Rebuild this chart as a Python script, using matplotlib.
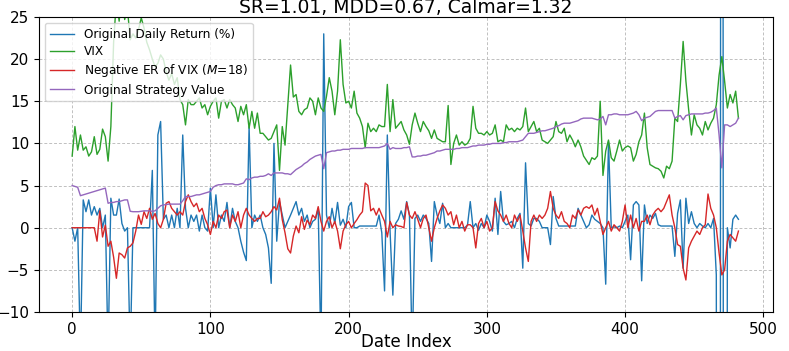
import numpy as np
import matplotlib
matplotlib.use("Agg")
import matplotlib.pyplot as plt

# values read every 2nd date index (0, 2, 4, ... 482)
STEP = 2

daily_ret = [
    0.0, -1.6, 0.0, -15, 3.3, 1.9, 3.3, 1.5, 2.5, 1.5,
    2.3, 0.0, 1.5, -15, 3.5, 1.5, 1.5, 3.4, 0.5, -0.4,
    0.0, -15, 0.0, 0.0, 0.0, 0.0, 0.0, 0.0, 0.0, 6.8,
    -15, 11.0, 12.6, 1.0, 1.5, 0.0, 1.5, 0.0, 2.3, 0.0,
    11.0, 2.3, 0.0, 1.5, 0.75, 1.5, -0.4, 1.5, 0.0, -0.4,
    4.7, 0.0, 3.9, 0.0, 1.5, 0.75, 3.0, 0.0, 2.3, 0.75,
    0.0, -1.6, -2.9, -3.9, 12.0, 0.0, 1.5, 0.75, 1.5, 0.0,
    -0.8, -2.4, -6.6, 10.0, -1.6, 3.1, 1.5, 0.0, 0.75, 1.5,
    2.3, 3.1, 1.5, 2.3, 0.75, 1.5, 0.0, 0.75, 1.0, 2.3,
    -15, 23.0, 1.5, 0.0, 2.3, 0.5, 3.0, 0.3, 1.0, 0.0,
    2.5, 3.0, 0.0, 0.0, 0.2, 0.2, 0.2, 0.2, 0.2, 0.2,
    0.2, 1.5, -0.6, -7.5, 11.0, -0.5, -8.0, 0.5, 1.0, 2.0,
    1.0, 3.1, 1.5, -15, 1.1, 1.5, 0.75, 1.5, 1.1, 0.5,
    -4.0, 3.1, 1.5, 0.5, 2.9, 0.0, 0.5, 0.0, 0.0, 0.0,
    0.0, 0.0, 0.0, 0.3, 3.1, 0.0, 0.5, -0.3, 0.5, 0.0,
    1.5, 0.75, -0.4, 3.5, -0.8, 4.3, 0.75, 0.35, 0.5, 0.75,
    0.0, 1.1, 1.7, -4.8, 7.7, 0.5, 0.2, 1.1, 1.1, 0.75,
    0.0, 0.0, 0.0, -2.0, 3.7, 1.1, 0.2, 0.2, 0.2, 0.2,
    0.2, 0.2, 0.2, 2.3, 1.5, 0.75, 0.0, 0.35, 1.5, 1.0,
    0.75, 0.5, 0.0, -6.7, 10.2, 0.0, 0.1, 0.0, 0.2, 0.0,
    0.75, 1.5, -3.8, 2.7, 3.1, 2.7, -6.3, 2.7, 0.5, 1.5,
    1.1, 1.7, 0.35, 0.2, 0.2, 0.2, 0.2, 0.2, -3.4, 1.7,
    3.3, -4.8, 3.5, 0.5, 1.9, 0.5, 0.0, 0.5, 0.2, 0.0,
    0.5, 0.0, 1.1, -5.6, -300, 300, -300, 0.0, -2.4, 1.0,
    1.5, 1.0,
]

vix = [
    8.5, 12.0, 9.2, 11.0, 9.2, 9.6, 8.5, 9.0, 10.8, 8.7,
    9.3, 11.7, 10.8, 7.9, 12.0, 22.0, 27.0, 24.5, 28.0, 24.7,
    26.0, 22.3, 23.0, 22.5, 23.5, 24.9, 23.7, 22.0, 21.1, 20.0,
    19.1, 19.5, 20.5, 20.0, 18.5, 17.5, 18.3, 17.0, 17.8, 15.2,
    14.6, 12.2, 15.2, 14.6, 14.6, 15.0, 15.4, 14.2, 14.6, 13.4,
    14.4, 15.0, 15.4, 13.0, 15.0, 15.2, 14.2, 15.2, 14.6, 14.2,
    12.6, 14.4, 13.4, 14.6, 11.8, 13.8, 11.8, 13.6, 11.2, 11.2,
    10.8, 10.4, 10.6, 11.4, 12.2, 6.8, 12.0, 9.8, 14.6, 19.3,
    15.5, 15.8, 13.8, 13.4, 14.0, 14.2, 15.4, 15.0, 13.4, 15.4,
    14.2, 13.8, 15.6, 17.8, 16.2, 13.4, 16.2, 22.3, 17.0, 14.8,
    15.0, 14.2, 16.2, 13.6, 13.0, 12.0, 9.5, 12.4, 11.4, 11.8,
    11.4, 12.2, 12.0, 12.0, 17.0, 11.4, 15.2, 11.8, 12.2, 12.6,
    11.6, 11.0, 9.9, 12.2, 13.6, 12.4, 11.4, 12.6, 12.0, 11.5,
    10.6, 11.6, 10.6, 10.4, 10.2, 10.2, 14.5, 7.5, 10.0, 11.0,
    9.8, 10.2, 9.8, 10.0, 10.6, 14.4, 11.8, 11.2, 11.2, 11.0,
    11.4, 11.0, 11.2, 12.2, 10.2, 10.4, 10.2, 12.2, 11.6, 11.8,
    11.4, 11.8, 11.6, 12.0, 14.2, 11.4, 12.0, 12.6, 11.4, 11.8,
    10.4, 10.2, 10.0, 10.4, 10.8, 12.6, 11.4, 11.2, 11.8, 10.2,
    11.0, 10.4, 9.6, 10.4, 9.6, 8.5, 8.0, 7.5, 8.3, 8.1,
    8.5, 15.0, 6.2, 9.1, 10.4, 8.3, 7.9, 9.1, 10.4, 9.1,
    9.5, 9.7, 9.5, 7.9, 8.7, 10.2, 11.0, 13.6, 9.5, 7.5,
    7.3, 7.1, 7.0, 6.7, 5.9, 7.3, 7.0, 7.9, 13.0, 12.6,
    17.0, 22.1, 17.4, 14.0, 11.0, 13.4, 12.2, 11.8, 11.0, 12.6,
    11.6, 12.4, 13.0, 14.6, 18.1, 20.3, 17.4, 14.2, 15.8, 14.8,
    16.2, 13.0,
]

neg_er = [
    0.0, 0.0, 0.0, 0.0, 0.0, 0.0, 0.0, 0.0, 0.0, -1.6,
    2.0, -1.1, 0.3, -2.2, -1.6, -3.5, -6.0, -3.0, -3.2, -3.6,
    -2.4, -2.2, -1.8, -0.4, 1.5, 0.4, 1.9, 1.1, 2.3, 1.0,
    1.7, 0.5, 0.0, 1.0, 2.9, 3.1, 2.3, 1.9, 1.5, 1.9,
    1.5, 3.1, 3.9, 3.1, 2.5, 2.9, 1.9, 2.3, 1.1, 0.35,
    -0.8, 0.75, 0.0, 1.5, 1.1, 1.9, 2.1, 0.0, 1.5, 0.75,
    1.9, 0.0, 1.5, 2.3, 1.5, 1.1, 0.75, 1.1, 1.1, 1.9,
    1.3, 1.5, 1.9, 2.5, 2.1, 3.5, 0.95, -0.6, -2.5, -3.0,
    -1.0, 0.2, -0.6, 1.3, -0.2, 0.9, 0.35, 1.5, 1.1, 2.5,
    0.75, -0.4, 0.75, 1.3, 0.0, 0.75, -0.4, -2.5, -0.4, 0.35,
    0.75, 0.0, 0.5, 0.95, 1.5, 1.9, 5.3, 5.0, 2.0, 2.3,
    1.5, 2.3, 1.5, 0.75, -1.1, 0.75, 0.0, 0.35, 0.2, 0.15,
    0.0, 3.0, 1.5, 1.1, 1.9, 1.0, 0.0, 1.1, 1.5, 0.0,
    -1.6, 0.0, 1.1, 2.0, 2.7, 2.3, 1.5, 1.9, 0.35, 1.5,
    0.0, 0.75, -0.4, 0.35, 0.35, 0.0, -2.4, 0.5, 1.1, 0.0,
    0.75, -0.4, 0.0, 3.1, 2.0, 1.5, 0.75, 1.5, 0.5, 0.0,
    1.5, 0.75, 1.5, -0.4, -2.4, -4.0, 0.75, 1.5, 0.75, 1.5,
    1.1, 1.5, 2.3, 4.3, 2.3, 1.5, 1.1, 1.9, 0.75, 0.5,
    0.0, 1.5, 1.1, 2.1, 1.5, 2.3, 2.5, 2.3, 2.7, 1.5,
    2.3, 0.75, -0.8, 0.0, 0.75, -0.4, 0.35, 0.0, -0.4, 0.75,
    2.7, 0.0, 1.5, 0.0, 1.1, -0.4, 0.75, 0.75, 1.5, 0.35,
    1.5, 2.0, 2.3, 1.9, 2.3, 3.1, 3.9, 1.5, 0.0, -2.0,
    -2.2, -4.8, -6.2, -2.4, -1.6, -1.0, -0.4, -0.8, 0.0, 0.35,
    4.0, 2.3, 1.5, 0.0, -3.0, -5.6, -5.0, -1.6, -0.8, -1.2,
    -1.6, -0.4,
]

strategy = [
    5.0, 4.9, 4.8, 3.8, 3.9, 4.0, 4.1, 4.2, 4.3, 4.4,
    4.5, 4.6, 4.7, 2.9, 3.0, 3.0, 3.1, 3.1, 3.2, 3.3,
    3.3, 1.95, 1.9, 1.9, 1.9, 1.95, 2.0, 2.0, 2.0, 1.95,
    2.0, 2.3, 2.6, 2.7, 2.75, 2.8, 2.8, 2.8, 2.8, 2.8,
    3.2, 3.7, 3.7, 3.7, 3.8, 3.9, 3.9, 4.0, 4.1, 4.2,
    4.3, 4.8, 5.0, 5.1, 5.1, 5.2, 5.2, 5.2, 5.2, 5.1,
    5.1, 5.2, 5.3, 5.8, 5.7, 5.9, 6.0, 6.0, 6.1, 6.1,
    6.2, 6.4, 6.2, 6.5, 6.5, 6.5, 6.5, 6.4, 6.4, 6.3,
    6.6, 6.9, 7.1, 7.3, 7.6, 7.8, 8.1, 8.3, 8.5, 8.6,
    8.7, 7.0, 8.9, 9.0, 9.1, 9.1, 9.2, 9.2, 9.3, 9.3,
    9.3, 9.4, 9.4, 9.4, 9.4, 9.4, 9.5, 9.5, 9.5, 9.5,
    9.5, 9.5, 9.6, 9.7, 10.0, 9.3, 9.5, 9.4, 9.4, 9.4,
    9.5, 9.5, 9.6, 8.4, 8.4, 8.5, 8.5, 8.6, 8.6, 8.7,
    8.8, 8.9, 9.1, 9.1, 9.2, 9.3, 9.3, 9.3, 9.3, 9.4,
    9.4, 9.5, 9.5, 9.5, 9.6, 9.7, 9.7, 9.8, 9.8, 9.8,
    9.9, 9.9, 10.0, 10.0, 10.0, 10.0, 10.1, 10.1, 10.2, 10.2,
    10.2, 10.2, 10.3, 10.4, 10.8, 11.2, 11.2, 11.2, 11.3, 11.4,
    11.5, 11.5, 11.6, 11.7, 11.8, 12.0, 12.1, 12.3, 12.4, 12.4,
    12.4, 12.5, 12.6, 12.7, 12.9, 13.0, 13.0, 13.0, 13.0, 12.9,
    12.8, 12.9, 13.2, 12.2, 13.4, 13.4, 13.5, 13.5, 13.4, 13.4,
    13.4, 13.4, 13.5, 13.6, 13.8, 13.4, 12.7, 13.0, 13.1, 13.2,
    13.5, 13.8, 13.9, 13.9, 13.9, 13.9, 13.9, 13.9, 13.0, 13.2,
    13.3, 12.8, 13.3, 13.4, 13.5, 13.5, 13.5, 13.5, 13.5, 13.6,
    13.6, 13.7, 13.9, 14.2, 11.0, 7.1, 12.2, 12.2, 12.0, 12.2,
    12.4, 13.0,
]

M = 18
title = "SR=1.01, MDD=0.67, Calmar=1.32"

idx = np.arange(len(vix)) * STEP

fig = plt.figure(figsize=(7.89, 3.51), dpi=100)
ax = fig.add_axes([0.0494, 0.1111, 0.9303, 0.8405])

lw = 1.0
ax.plot(idx, daily_ret, color="tab:blue", lw=lw, label="Original Daily Return (%)")
ax.plot(idx, vix, color="tab:green", lw=lw, label="VIX")
ax.plot(idx, neg_er, color="tab:red", lw=lw, label=f"Negative ER of VIX ($M$={M})")
ax.plot(idx, strategy, color="tab:purple", lw=lw, label="Original Strategy Value")

ax.set_ylim(-10, 25)
ax.set_xlim(-24, 507)
ax.set_xticks([0, 100, 200, 300, 400, 500])
ax.set_yticks([-10, -5, 0, 5, 10, 15, 20, 25])
ax.tick_params(labelsize=11)
ax.grid(True, linestyle=(0, (3, 2)), color="#c0c0c0", linewidth=0.7)

ax.set_xlabel("Date Index", fontsize=12, labelpad=-3)
ax.set_title(title, fontsize=13.5, pad=2)
ax.legend(loc="upper left", fontsize=8.7, labelspacing=0.35)

fig.savefig("out.png", dpi=100)
